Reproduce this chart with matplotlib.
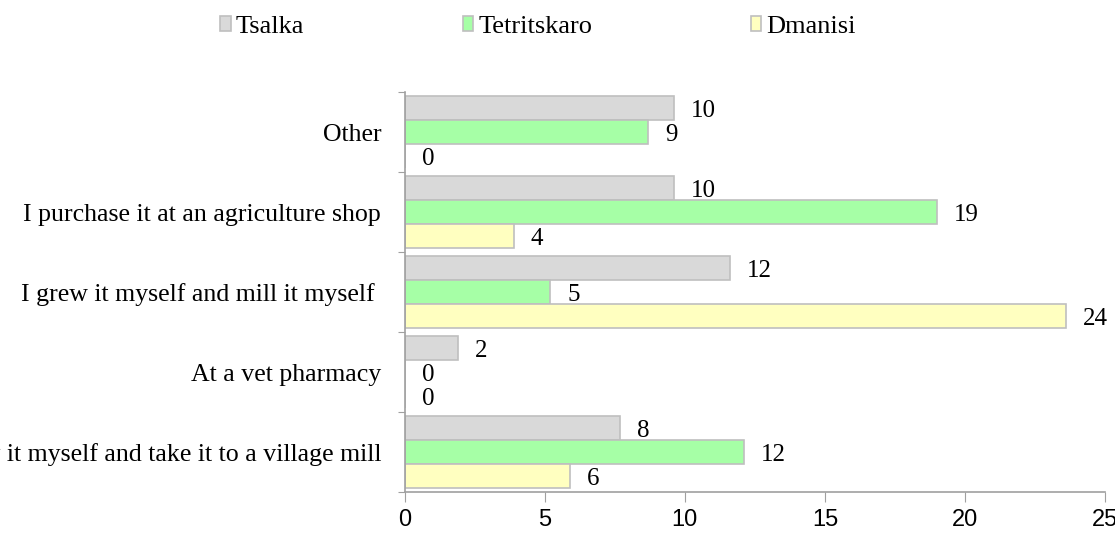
import numpy as np
import matplotlib.pyplot as plt

# categories from bottom to top
categories = ['I grow it myself and take it to a village mill',
              'At a vet pharmacy',
              'I grew it myself and mill it myself ',
              'I purchase it at an agriculture shop',
              'Other']
series = ['Tsalka', 'Tetritskaro', 'Dmanisi']
tsalka = [7.7, 1.9, 11.6, 9.6, 9.6]
tetritskaro = [12.1, 0, 5.2, 19.0, 8.7]
dmanisi = [5.9, 0, 23.6, 3.9, 0]
colors = ['#D9D9D9', '#A6FFA6', '#FFFFC0']

fig = plt.figure(figsize=(11.15, 5.36), dpi=100)
ax = fig.add_axes([0.363, 0.082, 0.628, 0.746])

y = np.arange(len(categories))
h = 0.3
for i, (name, vals) in enumerate(zip(series, [tsalka, tetritskaro, dmanisi])):
    pos = y + h - i * h
    ax.barh(pos, vals, height=h, color=colors[i], edgecolor='#BFBFBF',
            linewidth=1.2, label=name)
    for p, v in zip(pos, vals):
        ax.text(v + 0.6, p - 0.04, f'{v:.0f}', va='center', ha='left',
                fontsize=18, family='Liberation Serif')

ax.set_xlim(0, 25)
ax.set_ylim(-0.5, len(categories) - 0.5)
ax.set_xticks([0, 5, 10, 15, 20, 25])
ax.tick_params(axis='x', length=7, color='#A0A0A0', pad=5, labelsize=17)
for t in ax.get_xticklabels():
    t.set_family('Liberation Sans')

ax.set_yticks(np.arange(-0.5, len(categories)), labels=[])
ax.tick_params(axis='y', which='major', length=5, color='#A0A0A0')
ax.set_yticks(y, labels=categories, minor=True)
ax.tick_params(axis='y', which='minor', length=0, pad=17, labelsize=18.6)
for t in ax.get_yticklabels(minor=True):
    t.set_family('Liberation Serif')

for s in ['top', 'right']:
    ax.spines[s].set_visible(False)
for s in ['left', 'bottom']:
    ax.spines[s].set_color('#A0A0A0')
    ax.spines[s].set_linewidth(1.2)

fig.legend(loc='upper left', bbox_to_anchor=(0.176, 1.015), ncol=3, frameon=False,
           prop={'family': 'Liberation Serif', 'size': 19},
           handlelength=0.4, handleheight=0.5, handletextpad=0.2,
           columnspacing=6.0)

fig.savefig('out.png', dpi=100)
